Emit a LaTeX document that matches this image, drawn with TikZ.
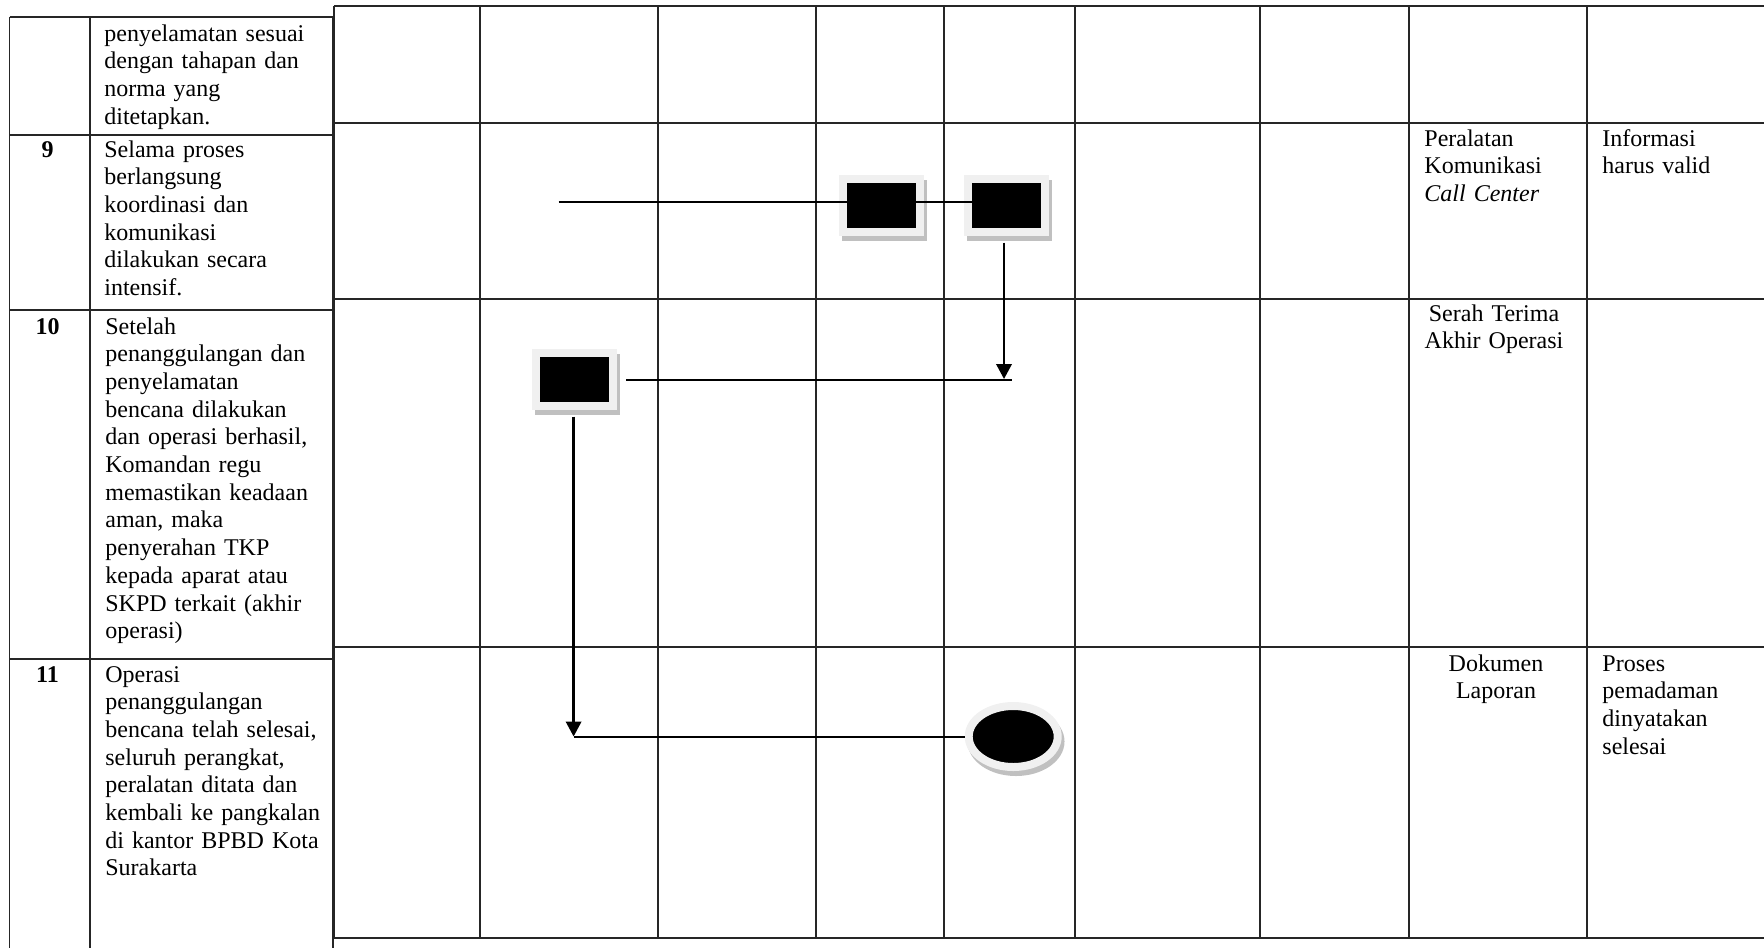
\documentclass[tikz,border=0pt]{standalone}
\usepackage{fontspec}
\setmainfont{Liberation Serif}
\usepackage{tikz}
\usetikzlibrary{arrows.meta, shapes.geometric, shadows}
\definecolor{framegray}{RGB}{240, 240, 240}
\definecolor{shadowgray}{RGB}{192, 192, 192}
\newcommand{\cellfont}{\fontsize{12pt}{13.85pt}\selectfont}

\begin{document}
\begin{tikzpicture}[
  x=0.5pt, y=-0.5pt,
  grid/.style={line width=0.8pt, black!85},
  flowbox/.style={rectangle, fill=black, draw=framegray, line width=4pt,
                  minimum width=38.5pt, minimum height=26.5pt, inner sep=0pt,
                  drop shadow={shadow xshift=1.4pt, shadow yshift=-2.5pt, opacity=1,
                               fill=shadowgray, draw=shadowgray, line width=4pt}},
  endnode/.style={flowbox, ellipse, minimum width=44.5pt, minimum height=30.5pt},
  flow/.style={line width=1pt},
  desc/.style={anchor=base west, inner sep=0pt, text width=115pt, align=left,
               font=\cellfont},
  note/.style={desc, text width=80pt},
  notec/.style={desc, anchor=base, text width=89pt, align=center},
  num/.style={anchor=base, inner sep=0pt, font=\cellfont\bfseries},
  >={Triangle[width=7.7pt, length=7.5pt]}
]
  \useasboundingbox (0,0) rectangle (1764,948);

  % ── Right grid (lanes) ─────────────────────────────────────────────────────
  \foreach \gx in {334, 480, 658, 816, 944, 1075, 1260, 1409, 1587}
    \draw[grid] (\gx, 6) -- (\gx, 938);
  \foreach \gy in {6, 123, 299, 647, 938}
    \draw[grid] (334, \gy) -- (1764, \gy);

  % ── Left table (steps) ─────────────────────────────────────────────────────
  \foreach \gx in {9.5, 90, 333}
    \draw[grid] (\gx, 17) -- (\gx, 948);
  \foreach \gy in {17, 135, 310, 659}
    \draw[grid] (9.5, \gy) -- (333, \gy);

  % ── Step texts ─────────────────────────────────────────────────────────────
  \node[desc] (t8) at (104, 41)
    {penyelamatan sesuai\\dengan tahapan dan\\norma yang\\ditetapkan.};

  \node[num]  (n9) at (47.5, 157) {9};
  \node[desc] (t9) at (104, 157)
    {Selama proses\\berlangsung\\koordinasi dan\\komunikasi\\dilakukan secara\\intensif.};

  \node[num]  (n10) at (47.5, 334) {10};
  \node[desc] (t10) at (105, 334)
    {Setelah\\penanggulangan dan\\penyelamatan\\bencana dilakukan\\dan operasi berhasil,\\Komandan regu\\memastikan keadaan\\aman, maka\\penyerahan TKP\\kepada aparat atau\\SKPD terkait (akhir\\operasi)};

  \node[num]  (n11) at (47.5, 682) {11};
  \node[desc] (t11) at (105, 682)
    {Operasi\\penanggulangan\\bencana telah selesai,\\seluruh perangkat,\\peralatan ditata dan\\kembali ke pangkalan\\di kantor BPBD Kota\\Surakarta};

  % ── Flow symbols ───────────────────────────────────────────────────────────
  \node[flowbox] (koord1)  at (881.5, 205.5) {};
  \node[flowbox] (koord2)  at (1006.8, 205.5) {};
  \node[flowbox] (serah)   at (574.8, 379.5) {};
  \node[endnode] (selesai) at (1013.2, 736.5) {};

  \coordinate (in9)   at (558.6, 202);
  \coordinate (out10) at (1012, 379);

  % ── Connections ────────────────────────────────────────────────────────────
  \draw[flow, shorten >=-4pt] (in9) -- (in9 -| koord1.west);
  \draw[flow, shorten <=-4pt, shorten >=-4pt]
    (in9 -| koord1.east) -- (in9 -| koord2.west);
  \draw[flow, line width=1.2pt, ->, shorten <=3.35pt]
    ([xshift=-1.4pt]koord2.south) -- ([xshift=-1.4pt]koord2.south |- out10);
  \draw[flow, shorten <=4.5pt] (serah.east) -- (serah.east -| out10);
  \draw[flow, line width=1.2pt, ->, shorten <=3.35pt]
    ([xshift=-0.6pt]serah.south) -- ([xshift=-0.6pt]serah.south |- selesai.west);
  \draw[flow] (selesai.west) -- ([xshift=-0.6pt]selesai.west -| serah.south);

  % ── Resources / outputs ────────────────────────────────────────────────────
  \node[note]  (alat)   at (1424, 146) {Peralatan\\Komunikasi\\\textit{Call Center}};
  \node[note]  (info)   at (1602, 146) {Informasi\\harus valid};
  \node[notec] (akhir)  at (1494, 321) {Serah Terima\\Akhir Operasi};
  \node[notec] (dok)    at (1496, 671) {Dokumen\\Laporan};
  \node[note]  (proses) at (1602, 671) {Proses\\pemadaman\\dinyatakan\\selesai};
\end{tikzpicture}
\end{document}
